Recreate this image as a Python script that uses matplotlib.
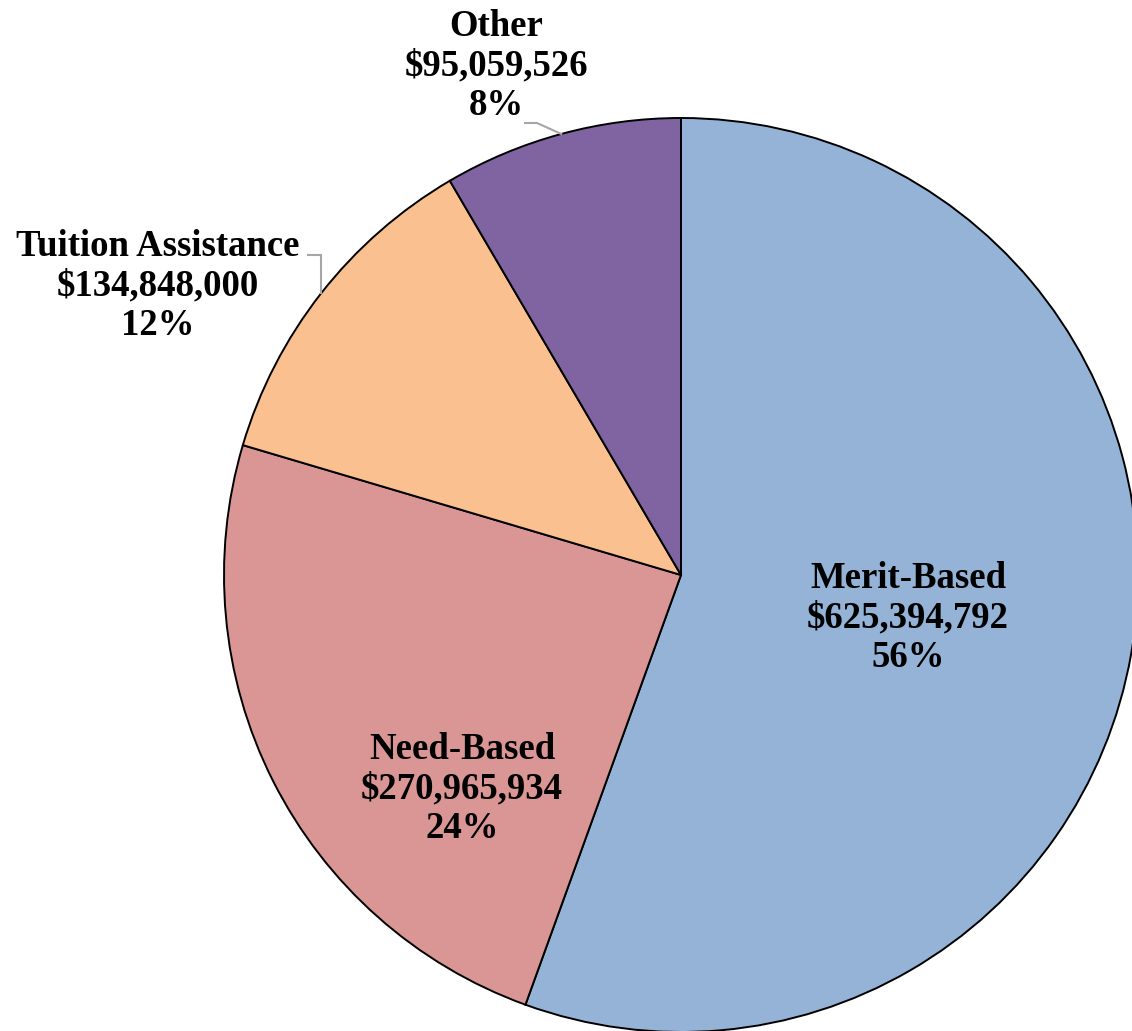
import numpy as np
import matplotlib
matplotlib.use("Agg")
import matplotlib.pyplot as plt

categories = ["Merit-Based", "Need-Based", "Tuition Assistance", "Other"]
amounts = [625394792, 270965934, 134848000, 95059526]
percent_labels = ["56%", "24%", "12%", "8%"]
colors = ["#95B3D7", "#D99694", "#FAC090", "#8064A2"]

W, H = 1132, 1031
fig = plt.figure(figsize=(W / 100, H / 100), dpi=100)
ax = fig.add_axes([0, 0, 1, 1])

cx, cy, r = 681, H - 575, 457
wedges, _ = ax.pie(amounts, colors=colors, startangle=90, counterclock=False,
                   center=(cx, cy), radius=r, frame=True,
                   wedgeprops=dict(edgecolor="black", linewidth=1.4))
ax.set_xlim(0, W)
ax.set_ylim(0, H)
ax.set_aspect("equal")
ax.axis("off")

font = dict(family=["Liberation Serif", "DejaVu Serif"], weight="bold", fontsize=26.5,
            color="black", ha="center", va="center", linespacing=1.18)

label_pos = {
    "Merit-Based": (908, H - 618),
    "Need-Based": (462, H - 789),
    "Tuition Assistance": (158, H - 286),
    "Other": (496, H - 66),
}
for cat, amt, pct in zip(categories, amounts, percent_labels):
    x, y = label_pos[cat]
    ax.text(x, y, f"{cat}\n${amt:,}\n{pct}", **font)

# leader lines
def edge_point(w):
    th = np.deg2rad((w.theta1 + w.theta2) / 2)
    return cx + r * np.cos(th), cy + r * np.sin(th)

ex, ey = edge_point(wedges[2])
ax.plot([308, ex, ex], [H - 255, H - 255, ey], color="#A6A6A6", lw=1.5,
        solid_joinstyle="miter")
ex, ey = edge_point(wedges[3])
ax.plot([525, 537, ex], [H - 123, H - 123, ey], color="#A6A6A6", lw=1.5)

fig.savefig("out.png", dpi=100)
